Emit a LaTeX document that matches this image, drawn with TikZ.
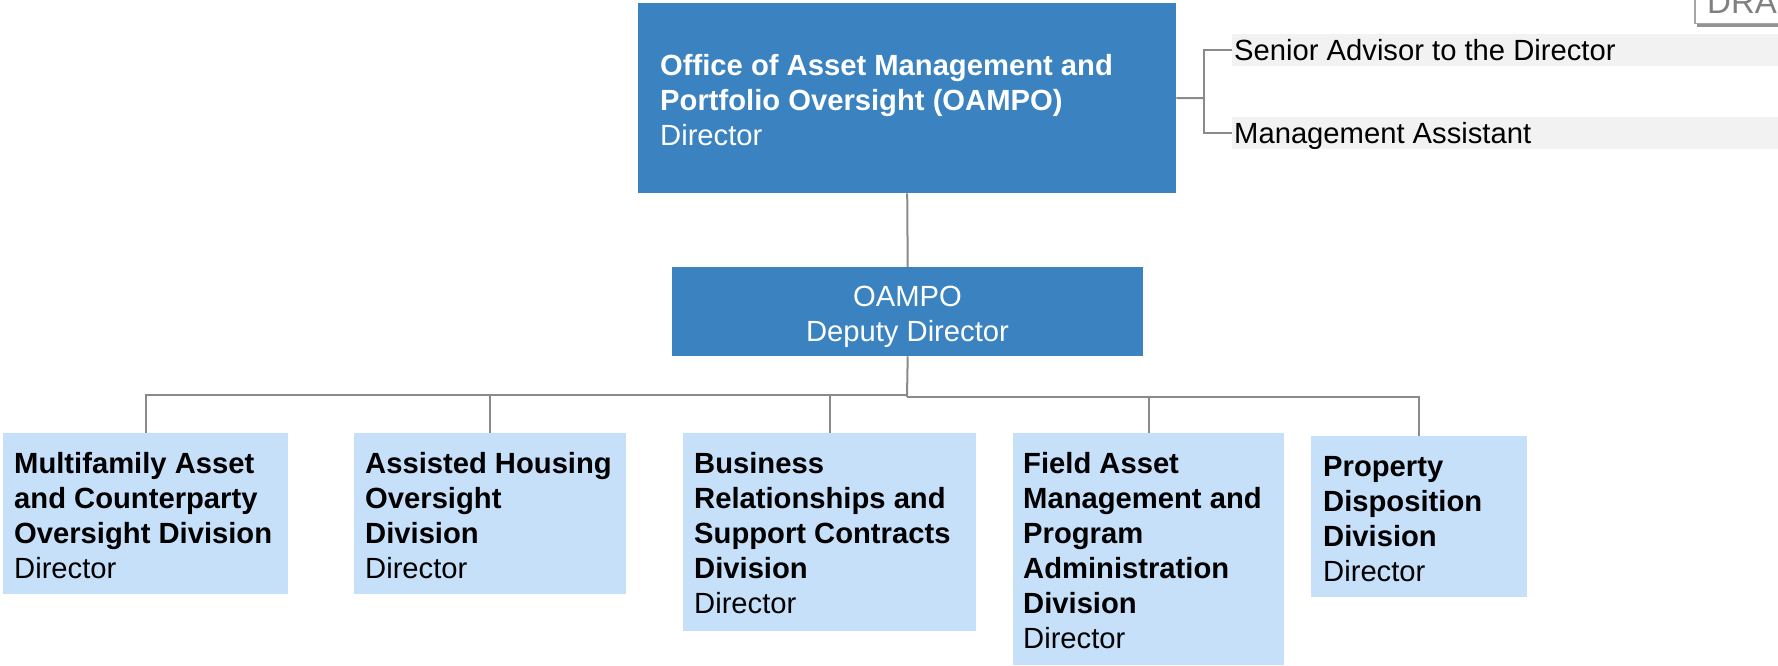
\documentclass[tikz,border=0pt]{standalone}
\usepackage{fontspec}
\setmainfont{Liberation Sans}
\definecolor{topblue}{RGB}{58,131,192}
\definecolor{lightblue}{RGB}{198,224,250}
\definecolor{linegray}{RGB}{138,138,138}
\definecolor{bargray}{RGB}{242,242,242}
\definecolor{draftgray}{RGB}{128,128,128}
\newcommand{\orgfont}{\fontsize{29.2}{35}\selectfont}
\begin{document}
\begin{tikzpicture}[x=1pt,y=-1pt,
  darkbox/.style={fill=topblue, draw=none, inner sep=0pt, anchor=north west},
  lightbox/.style={fill=lightblue, draw=none, inner sep=0pt, anchor=north west},
  graybar/.style={fill=bargray, draw=none, inner sep=0pt, anchor=north west, minimum height=32pt},
  txt/.style={inner sep=0pt, anchor=base west, font=\orgfont, text=black},
  wtxt/.style={txt, text=white},
  conn/.style={draw=linegray, line width=2pt},
]
\useasboundingbox (0,0) rectangle (1778,665);

% DRAFT stamp (cut by the page edge)
\fill[draftgray!85] (1697,2) rectangle (1778,27);
\node[draw=draftgray!70, fill=white, line width=1.5pt, anchor=south west,
      minimum width=100pt, minimum height=40pt, inner sep=0pt] (draftbox) at (1694,24) {};
\node[txt, text=draftgray, font=\fontsize{33}{40}\selectfont] (draftT) at (1707,13) {DRAFT};

% top box
\node[darkbox, minimum width=538pt, minimum height=190pt] (oampo) at (638,3) {};
\node[wtxt] (oampoT) at (660,75) {\parbox[t]{510pt}{\raggedright\textbf{Office of Asset Management and}\\\textbf{Portfolio Oversight (OAMPO)}\\Director}};

% side staff
\node[graybar, minimum width=546pt] (senior) at (1232,34) {};
\node[graybar, minimum width=546pt] (mgmt) at (1232,117) {};
\node[txt] (seniorT) at (1234,60) {Senior Advisor to the Director};
\node[txt] (mgmtT) at (1234,143) {Management Assistant};
\coordinate (sj) at (1204,98);
\draw[conn] (oampo.east) -- (sj);
\draw[conn] (sj) |- (senior.west);
\draw[conn] (sj) |- (mgmt.west);

% deputy
\node[darkbox, minimum width=471pt, minimum height=89pt] (deputy) at (672,267) {};
\node[wtxt, anchor=base] (deputyT) at (907.5,306) {\parbox[t]{420pt}{\centering OAMPO\\Deputy Director}};
\draw[conn] (oampo.south) -- (deputy.north);

% divisions
\node[lightbox, minimum width=285pt, minimum height=161pt] (multi) at (3,433) {};
\node[lightbox, minimum width=272pt, minimum height=161pt] (assisted) at (354,433) {};
\node[lightbox, minimum width=293pt, minimum height=198pt] (business) at (683,433) {};
\node[lightbox, minimum width=271pt, minimum height=232pt] (field) at (1013,433) {};
\node[lightbox, minimum width=216pt, minimum height=161pt] (property) at (1311,436) {};

\node[txt] (multiT) at (14,473) {\parbox[t]{280pt}{\raggedright\textbf{Multifamily Asset}\\\textbf{and Counterparty}\\\textbf{Oversight Division}\\Director}};
\node[txt] (assistedT) at (365,473) {\parbox[t]{260pt}{\raggedright\textbf{Assisted Housing}\\\textbf{Oversight}\\\textbf{Division}\\Director}};
\node[txt] (businessT) at (694,473) {\parbox[t]{280pt}{\raggedright\textbf{Business}\\\textbf{Relationships and}\\\textbf{Support Contracts}\\\textbf{Division}\\Director}};
\node[txt] (fieldT) at (1023,473) {\parbox[t]{260pt}{\raggedright\textbf{Field Asset}\\\textbf{Management and}\\\textbf{Program}\\\textbf{Administration}\\\textbf{Division}\\Director}};
\node[txt] (propertyT) at (1323,476) {\parbox[t]{200pt}{\raggedright\textbf{Property}\\\textbf{Disposition}\\\textbf{Division}\\Director}};

% connectors
\coordinate (busL) at (907,395);
\coordinate (busR) at (907,397);
\draw[conn] (deputy.south) -- (busR);
\draw[conn] (busL) -| (multi.north);
\draw[conn] (busL) -| (assisted.north);
\draw[conn] (busL) -| (business.north);
\draw[conn] (busR) -| (field.north);
\draw[conn] (busR) -| (property.north);
\end{tikzpicture}
\end{document}
